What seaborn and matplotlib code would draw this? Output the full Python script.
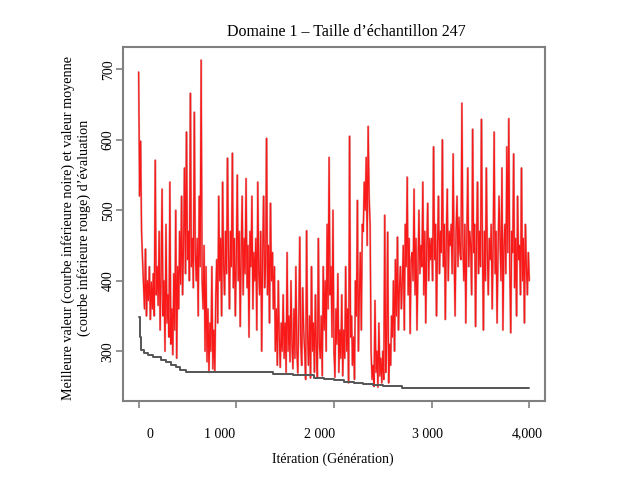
import matplotlib
matplotlib.use("Agg")
import pandas as pd
import matplotlib.pyplot as plt
import seaborn as sns

# ---------------------------------
# Data
# ---------------------------------

title = "Domaine 1 \u2013 Taille d\u2019\u00e9chantillon 247"
x_label = "It\u00e9ration (G\u00e9n\u00e9ration)"
y_label = ("Meilleure valeur (courbe inf\u00e9rieure noire) et valeur moyenne\n"
           "(courbe inf\u00e9rieure rouge) d\u2019\u00e9valuation")

x_ticks = [0, 1000, 2000, 3000, 4000]
x_tick_labels = ["0", "1 000", "2 000", "3 000", "4,000"]
y_ticks = [300, 400, 500, 600, 700]

# mean evaluation value, one reading every 10 iterations (0 .. 4000)
iterations = list(range(0, 4001, 10))
red_mean = [
    696, 520, 598, 470, 430, 395, 360, 445, 350, 400,
    372, 420, 345, 398, 360, 410, 350, 571, 380, 420,
    365, 470, 330, 405, 530, 350, 400, 300, 480, 340,
    380, 320, 540, 310, 360, 295, 410, 330, 500, 290,
    420, 360, 470, 395, 520, 380, 450, 560, 410, 611,
    430, 470, 400, 666, 420, 460, 390, 639, 440, 400,
    460, 350, 520, 420, 713, 400, 360, 450, 300, 420,
    285, 360, 270, 340, 300, 420, 275, 330, 272, 380,
    430, 340, 520, 400, 460, 350, 540, 420, 380, 470,
    410, 574, 440, 360, 470, 420, 581, 390, 460, 350,
    430, 550, 400, 470, 335, 440, 520, 380, 460, 410,
    545, 390, 450, 320, 470, 420, 520, 360, 440, 400,
    460, 330, 540, 410, 380, 470, 300, 440, 520, 390,
    420, 602, 380, 450, 340, 510, 400, 440, 360, 420,
    300, 360, 280, 400, 320, 277, 340, 300, 380, 290,
    340, 270, 440, 300, 350, 285, 400, 310, 275, 360,
    290, 420, 300, 269, 350, 462, 310, 280, 390, 330,
    300, 260, 471, 320, 280, 350, 262, 420, 300, 340,
    270, 380, 300, 262, 460, 310, 290, 350, 265, 420,
    330, 400, 300, 480, 360, 575, 380, 420, 320, 500,
    300, 263, 360, 310, 410, 270, 330, 290, 380, 265,
    330, 290, 420, 300, 360, 255, 605, 320, 350, 280,
    320, 260, 400, 350, 514, 300, 380, 440, 330, 480,
    470, 540, 500, 575, 450, 619, 520, 480, 300, 260,
    280, 250, 372, 270, 300, 249, 340, 265, 290, 255,
    300, 260, 493, 270, 320, 469, 255, 310, 280, 350,
    320, 400, 300, 430, 350, 462, 330, 390, 420, 360,
    400, 450, 330, 480, 420, 547, 380, 460, 325, 430,
    440, 400, 530, 380, 460, 330, 420, 500, 410, 450,
    420, 540, 380, 470, 340, 450, 510, 400, 460, 430,
    460, 400, 590, 430, 480, 350, 450, 520, 410, 470,
    440, 600, 420, 480, 345, 460, 530, 400, 470, 450,
    480, 410, 580, 440, 350, 470, 520, 420, 490, 440,
    430, 652, 450, 400, 480, 340, 460, 560, 420, 470,
    450, 380, 615, 440, 480, 335, 460, 540, 410, 470,
    420, 629, 450, 330, 470, 400, 560, 440, 380, 460,
    430, 480, 360, 450, 611, 410, 470, 340, 440, 520,
    460, 400, 560, 330, 450, 480, 410, 590, 440, 630,
    420, 326, 470, 440, 580, 390, 460, 350, 520, 430,
    450, 380, 560, 400, 460, 340, 480, 420, 380, 440,
    400,
]

# best value so far, at the iterations where it changes
best_iter = [0, 10, 20, 50, 100, 150, 230, 280, 330, 380, 420, 480,
             1380, 1580, 1800, 1900, 2000, 2100, 2200, 2300, 2400, 2500,
             2700, 4000]
best_value = [348, 320, 302, 298, 294, 292, 288, 284, 280, 277, 273, 271,
              268, 266, 262, 261, 259, 257, 255, 254, 252, 251,
              248, 248]

df_red = pd.DataFrame({"iteration": iterations, "valeur": red_mean})
df_best = pd.DataFrame({"iteration": best_iter, "valeur": best_value})

sns.set_style("white")
plt.rcParams["font.family"] = ["Liberation Serif", "DejaVu Serif"]
plt.rcParams["text.color"] = "black"

fig = plt.figure(figsize=(6.26, 4.92), dpi=100)
ax = fig.add_axes([0.1965, 0.185, 0.674, 0.7195])

# light rosy halo, then the red line on top
sns.lineplot(data=df_red, x="iteration", y="valeur", color="#c87070",
             lw=1.5, alpha=0.6, estimator=None, sort=False, ax=ax)
sns.lineplot(data=df_red, x="iteration", y="valeur", color="red",
             lw=0.9, alpha=0.85, estimator=None, sort=False, ax=ax)
sns.lineplot(data=df_best, x="iteration", y="valeur", color="#555555",
             lw=1.4, drawstyle="steps-post", estimator=None, ax=ax)

ax.set_xlim(-160, 4160)
ax.set_ylim(229.4, 731.6)
ax.set_xlabel("")
ax.set_ylabel("")

ax.set_xticks(x_ticks)
ax.set_xticklabels([])
ax.set_yticks(y_ticks)
ax.set_yticklabels([str(v) for v in y_ticks], rotation=90, va="center")
ax.tick_params(bottom=True, left=True, direction="out", length=5, width=1.2,
               color="#808080", labelcolor="black", labelsize=10, pad=1)

for sp in ax.spines.values():
    sp.set_color("#808080")
    sp.set_linewidth(1.5)

# x tick labels sit slightly off the ticks in the reference
for xp, lab in zip([150, 220, 320, 427, 527], x_tick_labels):
    fig.text(xp / 626, 1 - 434 / 492, lab, ha="center", va="center",
             fontsize=10)

fig.text(346 / 626, 1 - 32 / 492, title, ha="center", va="center",
         fontsize=11.5)
fig.text(333 / 626, 1 - 459 / 492, x_label, ha="center", va="center",
         fontsize=10)
fig.text(76 / 626, 1 - 228 / 492, y_label, ha="center", va="center",
         rotation=90, multialignment="center", fontsize=10.2,
         linespacing=1.25)

fig.savefig("out.png", dpi=100)
